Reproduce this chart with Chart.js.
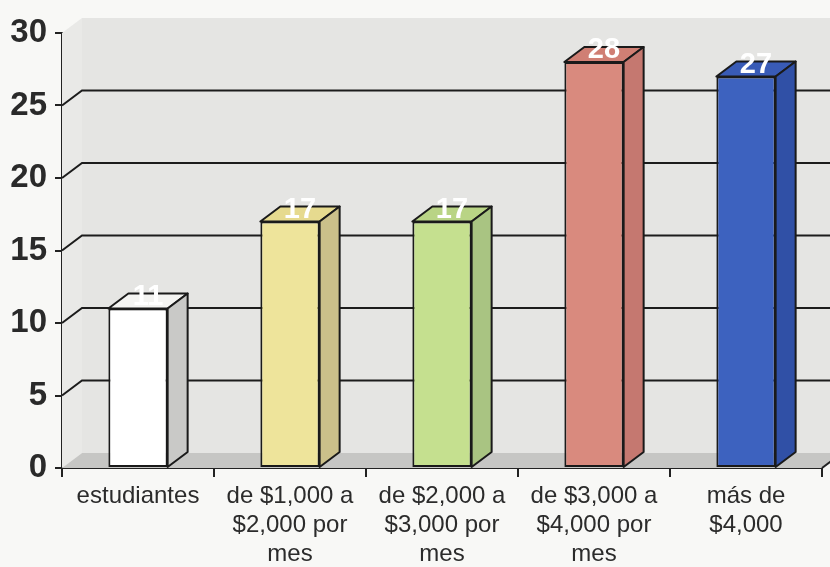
<!DOCTYPE html>
<html>
<head>
<meta charset="utf-8">
<title>Ingreso mensual</title>
<script src="https://cdn.jsdelivr.net/npm/chart.js@4.4.1/dist/chart.umd.min.js"></script>
<style>
    html, body { margin: 0; padding: 0; background: #f8f8f6; }
    #wrap { width: 830px; height: 567px; }
</style>
</head>
<body>
<div id="wrap"><canvas id="ingresoChart" width="830" height="567"></canvas></div>
<script>
// ========================================
// INGRESO MENSUAL - GRAFICA DE BARRAS 3D
// ========================================

const categorias = [
    ['estudiantes'],
    ['de $1,000 a', '$2,000 por', 'mes'],
    ['de $2,000 a', '$3,000 por', 'mes'],
    ['de $3,000 a', '$4,000 por', 'mes'],
    ['más de', '$4,000']
];
const valores = [11, 17, 17, 28, 27];
const ticksY = [0, 5, 10, 15, 20, 25, 30];

// Colores de cada barra: frente, tapa y costado
const coloresFrente = ['#ffffff', '#eee49b', '#c5e08f', '#d98a7e', '#3d62bf'];
const coloresTapa   = ['#f4f4f2', '#e6da8f', '#b9d485', '#d07f74', '#395bb6'];
const coloresLado   = ['#c9c9c7', '#cbc08a', '#a9c482', '#c57870', '#3050a6'];

// Profundidad del efecto 3D
const DX = 20;
const DY = -15;

const paredes3d = {
    id: 'paredes3d',
    beforeDatasetsDraw(chart) {
        const ctx = chart.ctx;
        const a = chart.chartArea;
        const y = chart.scales.y;
        const W = chart.width;
        ctx.save();

        // pared del fondo
        ctx.fillStyle = '#e5e5e3';
        ctx.fillRect(a.left + DX, a.top + DY, W - a.left - DX, a.bottom - a.top);

        // pared lateral
        ctx.fillStyle = '#e9e9e7';
        ctx.beginPath();
        ctx.moveTo(a.left, a.top);
        ctx.lineTo(a.left + DX, a.top + DY);
        ctx.lineTo(a.left + DX, a.bottom + DY);
        ctx.lineTo(a.left, a.bottom);
        ctx.closePath();
        ctx.fill();

        // piso
        ctx.fillStyle = '#c6c6c4';
        ctx.beginPath();
        ctx.moveTo(a.left, a.bottom);
        ctx.lineTo(a.left + DX, a.bottom + DY);
        ctx.lineTo(a.right + DX, a.bottom + DY);
        ctx.lineTo(a.right, a.bottom);
        ctx.closePath();
        ctx.fill();
        ctx.strokeStyle = '#222';
        ctx.lineWidth = 2;
        ctx.beginPath();
        ctx.moveTo(a.right, a.bottom);
        ctx.lineTo(a.right + DX, a.bottom + DY);
        ctx.stroke();

        // lineas de division
        ctx.strokeStyle = '#1c1c1c';
        ctx.lineWidth = 2;
        ticksY.forEach(v => {
            if (v === ticksY[0] || v === ticksY[ticksY.length - 1]) return;
            const py = y.getPixelForValue(v);
            ctx.beginPath();
            ctx.moveTo(a.left, py);
            ctx.lineTo(a.left + DX, py + DY);
            ctx.lineTo(W, py + DY);
            ctx.stroke();
        });
        ctx.restore();
    },
    afterDatasetsDraw(chart) {
        const ctx = chart.ctx;
        const meta = chart.getDatasetMeta(0);
        ctx.save();
        ctx.strokeStyle = '#1a1a1a';
        ctx.lineWidth = 2;
        ctx.lineJoin = 'round';
        meta.data.forEach((bar, i) => {
            const l = bar.x - bar.width / 2;
            const r = bar.x + bar.width / 2;
            const t = bar.y;
            const b = bar.base;

            // tapa
            ctx.fillStyle = coloresTapa[i];
            ctx.beginPath();
            ctx.moveTo(l, t);
            ctx.lineTo(l + DX, t + DY);
            ctx.lineTo(r + DX, t + DY);
            ctx.lineTo(r, t);
            ctx.closePath();
            ctx.fill();
            ctx.stroke();

            // costado
            ctx.fillStyle = coloresLado[i];
            ctx.beginPath();
            ctx.moveTo(r, t);
            ctx.lineTo(r + DX, t + DY);
            ctx.lineTo(r + DX, b + DY);
            ctx.lineTo(r, b);
            ctx.closePath();
            ctx.fill();
            ctx.stroke();

            // etiqueta con el valor
            ctx.fillStyle = '#ffffff';
            ctx.font = 'bold 29px "Liberation Sans", Arial, sans-serif';
            ctx.textAlign = 'center';
            ctx.textBaseline = 'alphabetic';
            ctx.fillText(String(valores[i]), bar.x + DX / 2, t - 4);
        });
        ctx.restore();
    }
};

const ctx = document.getElementById('ingresoChart').getContext('2d');
const ingresoChart = new Chart(ctx, {
    type: 'bar',
    data: {
        labels: categorias,
        datasets: [{
            data: valores,
            backgroundColor: coloresFrente,
            borderColor: '#1a1a1a',
            borderWidth: 2,
            borderSkipped: false,
            barPercentage: 0.39,
            categoryPercentage: 1.0
        }]
    },
    options: {
        responsive: false,
        animation: false,
        layout: { padding: { top: 33, right: 8, left: 0, bottom: 0 } },
        plugins: {
            legend: { display: false },
            tooltip: { enabled: false }
        },
        scales: {
            x: {
                offset: true,
                grid: {
                    offset: true,
                    drawOnChartArea: false,
                    color: '#222',
                    lineWidth: 2,
                    tickLength: 9
                },
                border: { color: '#222', width: 2 },
                ticks: {
                    color: '#2b2b2b',
                    padding: 5,
                    maxRotation: 0,
                    autoSkip: false,
                    font: { family: '"Liberation Sans", Arial, sans-serif', size: 24, lineHeight: '29px' }
                },
                afterFit: scale => { scale.height = 99; }
            },
            y: {
                min: 0,
                max: 30,
                ticks: {
                    stepSize: 5,
                    color: '#2a2a2a',
                    padding: 8,
                    font: { family: '"Liberation Sans", Arial, sans-serif', size: 33, weight: 'bold' }
                },
                grid: {
                    drawOnChartArea: false,
                    color: '#222',
                    lineWidth: 2,
                    tickLength: 7
                },
                border: { color: '#222', width: 2 },
                afterFit: scale => { scale.width = 62; }
            }
        }
    },
    plugins: [paredes3d]
});
</script>
</body>
</html>
